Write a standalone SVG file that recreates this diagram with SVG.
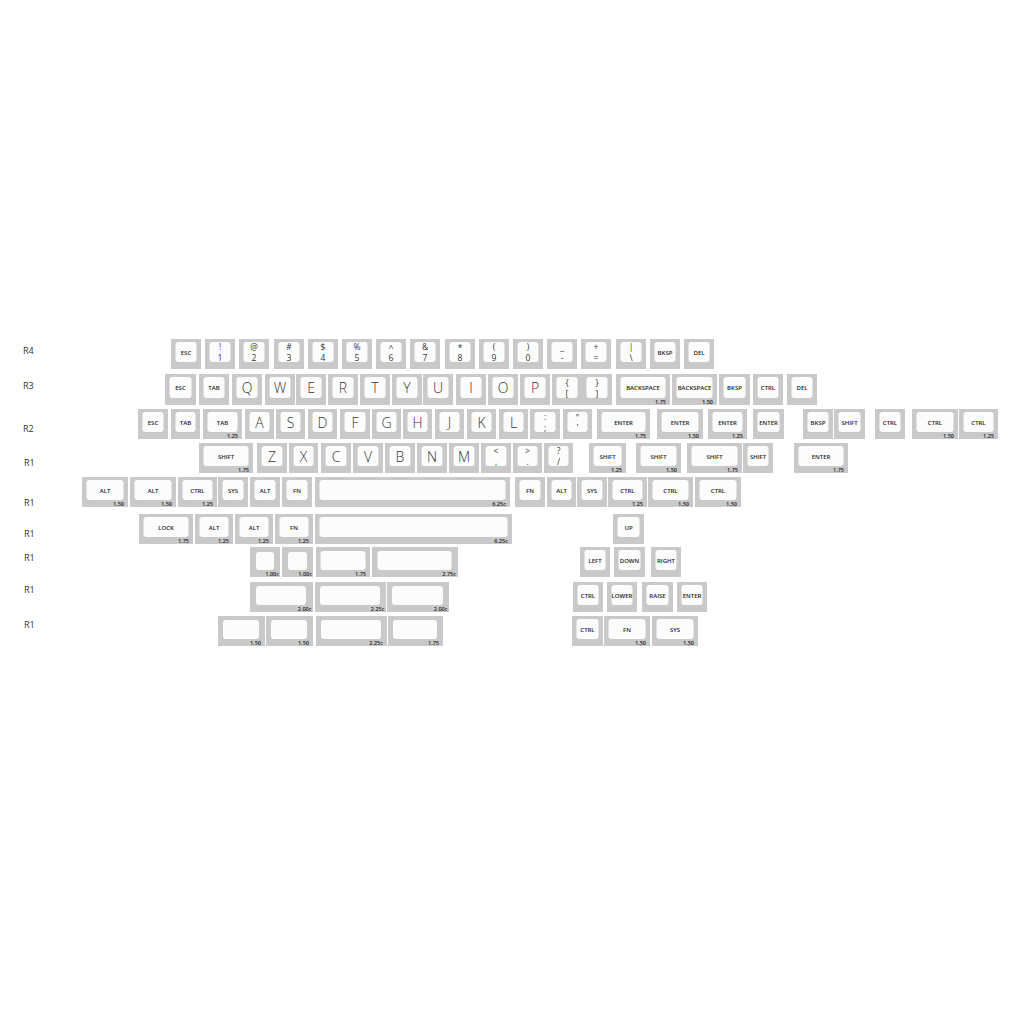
<svg xmlns="http://www.w3.org/2000/svg" width="1024" height="1024" viewBox="0 0 1024 1024">
<style>
.k{fill:#c9c9c9}
.c{fill:#fcfcfc}
text{font-family:"Open Sans","Liberation Sans",sans-serif;fill:#222}
.m{font-size:6px;font-weight:600;text-anchor:middle}
.l{font-size:14px;font-weight:300;text-anchor:middle;fill:#333}
.n{font-size:8.5px;font-weight:400;text-anchor:middle;fill:#333}
.s{font-size:5.5px;font-weight:600;text-anchor:end}
.r{font-size:9px;font-weight:400;fill:#333}
</style>
<rect width="1024" height="1024" fill="#fff"/>
<g id="row-labels">
<text class="r" x="23" y="354">R4</text>
<text class="r" x="23" y="389">R3</text>
<text class="r" x="23" y="432">R2</text>
<text class="r" x="24" y="466">R1</text>
<text class="r" x="24" y="506">R1</text>
<text class="r" x="24" y="537">R1</text>
<text class="r" x="24" y="561">R1</text>
<text class="r" x="24" y="593">R1</text>
<text class="r" x="24" y="628">R1</text>
</g>
<g id="connectors"/>
<!-- R4 -->
<g id="r4-esc"><rect class="k" x="171" y="339" width="30" height="30"/><rect class="c" x="175.5" y="342" width="21" height="20" rx="3"/><text class="m" x="186" y="355">ESC</text></g>
<g id="r4-1"><rect class="k" x="205" y="339" width="30" height="30"/><rect class="c" x="209.5" y="342" width="21" height="20" rx="3"/><text class="n" x="220" y="350">!</text><text class="n" x="220" y="361">1</text></g>
<g id="r4-2"><rect class="k" x="239" y="339" width="30" height="30"/><rect class="c" x="243.5" y="342" width="21" height="20" rx="3"/><text class="n" x="254" y="350">@</text><text class="n" x="254" y="361">2</text></g>
<g id="r4-3"><rect class="k" x="274" y="339" width="30" height="30"/><rect class="c" x="278.5" y="342" width="21" height="20" rx="3"/><text class="n" x="289" y="350">#</text><text class="n" x="289" y="361">3</text></g>
<g id="r4-4"><rect class="k" x="308" y="339" width="30" height="30"/><rect class="c" x="312.5" y="342" width="21" height="20" rx="3"/><text class="n" x="323" y="350">$</text><text class="n" x="323" y="361">4</text></g>
<g id="r4-5"><rect class="k" x="342" y="339" width="30" height="30"/><rect class="c" x="346.5" y="342" width="21" height="20" rx="3"/><text class="n" x="357" y="350">%</text><text class="n" x="357" y="361">5</text></g>
<g id="r4-6"><rect class="k" x="376" y="339" width="30" height="30"/><rect class="c" x="380.5" y="342" width="21" height="20" rx="3"/><text class="n" x="391" y="351">^</text><text class="n" x="391" y="361">6</text></g>
<g id="r4-7"><rect class="k" x="410" y="339" width="30" height="30"/><rect class="c" x="414.5" y="342" width="21" height="20" rx="3"/><text class="n" x="425" y="350">&amp;</text><text class="n" x="425" y="361">7</text></g>
<g id="r4-8"><rect class="k" x="445" y="339" width="30" height="30"/><rect class="c" x="449.5" y="342" width="21" height="20" rx="3"/><text class="n" x="460" y="351">*</text><text class="n" x="460" y="361">8</text></g>
<g id="r4-9"><rect class="k" x="479" y="339" width="30" height="30"/><rect class="c" x="483.5" y="342" width="21" height="20" rx="3"/><text class="n" x="494" y="350">(</text><text class="n" x="494" y="361">9</text></g>
<g id="r4-0"><rect class="k" x="513" y="339" width="30" height="30"/><rect class="c" x="517.5" y="342" width="21" height="20" rx="3"/><text class="n" x="528" y="350">)</text><text class="n" x="528" y="361">0</text></g>
<g id="r4-minus"><rect class="k" x="547" y="339" width="30" height="30"/><rect class="c" x="551.5" y="342" width="21" height="20" rx="3"/><text class="n" x="562" y="350">_</text><text class="n" x="562" y="361">-</text></g>
<g id="r4-equal"><rect class="k" x="581" y="339" width="30" height="30"/><rect class="c" x="585.5" y="342" width="21" height="20" rx="3"/><text class="n" x="596" y="350">+</text><text class="n" x="596" y="361">=</text></g>
<g id="r4-bslash"><rect class="k" x="616" y="339" width="30" height="30"/><rect class="c" x="620.5" y="342" width="21" height="20" rx="3"/><text class="n" x="631" y="350">|</text><text class="n" x="631" y="361">\</text></g>
<g id="r4-bksp"><rect class="k" x="650" y="339" width="30" height="30"/><rect class="c" x="654.5" y="342" width="21" height="20" rx="3"/><text class="m" x="665" y="355">BKSP</text></g>
<g id="r4-del"><rect class="k" x="684" y="339" width="30" height="30"/><rect class="c" x="688.5" y="342" width="21" height="20" rx="3"/><text class="m" x="699" y="355">DEL</text></g>
<!-- R3 -->
<g id="r3-esc"><rect class="k" x="165" y="374" width="31" height="31"/><rect class="c" x="169.5" y="377" width="22" height="21" rx="3"/><text class="m" x="180.5" y="390">ESC</text></g>
<g id="r3-tab"><rect class="k" x="199" y="374" width="30" height="31"/><rect class="c" x="203.5" y="377" width="21" height="21" rx="3"/><text class="m" x="214" y="390">TAB</text></g>
<g id="r3-q"><rect class="k" x="232" y="374" width="30" height="31"/><rect class="c" x="236.5" y="377" width="21" height="21" rx="3"/><text class="l" x="247" y="393">Q</text></g>
<g id="r3-w"><rect class="k" x="265" y="374" width="30" height="31"/><rect class="c" x="269.5" y="377" width="21" height="21" rx="3"/><text class="l" x="280" y="393">W</text></g>
<g id="r3-e"><rect class="k" x="296" y="374" width="30" height="31"/><rect class="c" x="300.5" y="377" width="21" height="21" rx="3"/><text class="l" x="311" y="393">E</text></g>
<g id="r3-r"><rect class="k" x="328" y="374" width="30" height="31"/><rect class="c" x="332.5" y="377" width="21" height="21" rx="3"/><text class="l" x="343" y="393">R</text></g>
<g id="r3-t"><rect class="k" x="360" y="374" width="30" height="31"/><rect class="c" x="364.5" y="377" width="21" height="21" rx="3"/><text class="l" x="375" y="393">T</text></g>
<g id="r3-y"><rect class="k" x="392" y="374" width="30" height="31"/><rect class="c" x="396.5" y="377" width="21" height="21" rx="3"/><text class="l" x="407" y="393">Y</text></g>
<g id="r3-u"><rect class="k" x="423" y="374" width="30" height="31"/><rect class="c" x="427.5" y="377" width="21" height="21" rx="3"/><text class="l" x="438" y="393">U</text></g>
<g id="r3-i"><rect class="k" x="456" y="374" width="30" height="31"/><rect class="c" x="460.5" y="377" width="21" height="21" rx="3"/><text class="l" x="471" y="393">I</text></g>
<g id="r3-o"><rect class="k" x="488" y="374" width="30" height="31"/><rect class="c" x="492.5" y="377" width="21" height="21" rx="3"/><text class="l" x="503" y="393">O</text></g>
<g id="r3-p"><rect class="k" x="520" y="374" width="30" height="31"/><rect class="c" x="524.5" y="377" width="21" height="21" rx="3"/><text class="l" x="535" y="393">P</text></g>
<g id="r3-lbrace"><rect class="k" x="552" y="374" width="30" height="31"/><rect class="c" x="556.5" y="377" width="21" height="21" rx="3"/><text class="n" x="567" y="386">{</text><text class="n" x="567" y="397">[</text></g>
<g id="r3-rbrace"><rect class="k" x="582" y="374" width="30" height="31"/><rect class="c" x="586.5" y="377" width="21" height="21" rx="3"/><text class="n" x="597" y="386">}</text><text class="n" x="597" y="397">]</text></g>
<g id="r3-backspace175"><rect class="k" x="616" y="374" width="54" height="31"/><rect class="c" x="620.5" y="377" width="45" height="21" rx="3"/><text class="m" x="643" y="390">BACKSPACE</text><text class="s" x="666" y="403.5">1.75</text></g>
<g id="r3-backspace150"><rect class="k" x="672" y="374" width="45" height="31"/><rect class="c" x="676.5" y="377" width="36" height="21" rx="3"/><text class="m" x="694.5" y="390">BACKSPACE</text><text class="s" x="713" y="403.5">1.50</text></g>
<g id="r3-bksp"><rect class="k" x="719" y="374" width="31" height="31"/><rect class="c" x="723.5" y="377" width="22" height="21" rx="3"/><text class="m" x="734.5" y="390">BKSP</text></g>
<g id="r3-ctrl"><rect class="k" x="753" y="374" width="30" height="31"/><rect class="c" x="757.5" y="377" width="21" height="21" rx="3"/><text class="m" x="768" y="390">CTRL</text></g>
<g id="r3-del"><rect class="k" x="787" y="374" width="30" height="31"/><rect class="c" x="791.5" y="377" width="21" height="21" rx="3"/><text class="m" x="802" y="390">DEL</text></g>
<!-- R2 -->
<g id="r2-esc"><rect class="k" x="138" y="409" width="30" height="30"/><rect class="c" x="142.5" y="412" width="21" height="20" rx="3"/><text class="m" x="153" y="425">ESC</text></g>
<g id="r2-tab"><rect class="k" x="171" y="409" width="29" height="30"/><rect class="c" x="175.5" y="412" width="20" height="20" rx="3"/><text class="m" x="185.5" y="425">TAB</text></g>
<g id="r2-tab125"><rect class="k" x="203" y="409" width="39" height="30"/><rect class="c" x="207.5" y="412" width="30" height="20" rx="3"/><text class="m" x="222.5" y="425">TAB</text><text class="s" x="238" y="437.5">1.25</text></g>
<g id="r2-a"><rect class="k" x="245" y="409" width="29" height="30"/><rect class="c" x="249.5" y="412" width="20" height="20" rx="3"/><text class="l" x="259.5" y="428">A</text></g>
<g id="r2-s"><rect class="k" x="276" y="409" width="29" height="30"/><rect class="c" x="280.5" y="412" width="20" height="20" rx="3"/><text class="l" x="290.5" y="428">S</text></g>
<g id="r2-d"><rect class="k" x="308" y="409" width="29" height="30"/><rect class="c" x="312.5" y="412" width="20" height="20" rx="3"/><text class="l" x="322.5" y="428">D</text></g>
<g id="r2-f"><rect class="k" x="340" y="409" width="30" height="30"/><rect class="c" x="344.5" y="412" width="21" height="20" rx="3"/><text class="l" x="355" y="428">F</text></g>
<g id="r2-g"><rect class="k" x="372" y="409" width="29" height="30"/><rect class="c" x="376.5" y="412" width="20" height="20" rx="3"/><text class="l" x="386.5" y="428">G</text></g>
<g id="r2-h"><rect class="k" x="403" y="409" width="29" height="30"/><rect class="c" x="407.5" y="412" width="20" height="20" rx="3"/><text class="l" x="417.5" y="428">H</text></g>
<g id="r2-j"><rect class="k" x="435" y="409" width="29" height="30"/><rect class="c" x="439.5" y="412" width="20" height="20" rx="3"/><text class="l" x="449.5" y="428">J</text></g>
<g id="r2-k"><rect class="k" x="467" y="409" width="29" height="30"/><rect class="c" x="471.5" y="412" width="20" height="20" rx="3"/><text class="l" x="481.5" y="428">K</text></g>
<g id="r2-l"><rect class="k" x="499" y="409" width="29" height="30"/><rect class="c" x="503.5" y="412" width="20" height="20" rx="3"/><text class="l" x="513.5" y="428">L</text></g>
<g id="r2-semicolon"><rect class="k" x="530" y="409" width="30" height="30"/><rect class="c" x="534.5" y="412" width="21" height="20" rx="3"/><text class="n" x="545" y="420">:</text><text class="n" x="545" y="431">;</text></g>
<g id="r2-quote"><rect class="k" x="563" y="409" width="29" height="30"/><rect class="c" x="567.5" y="412" width="20" height="20" rx="3"/><text class="n" x="577.5" y="421">"</text><text class="n" x="577.5" y="431">'</text></g>
<g id="r2-enter175"><rect class="k" x="597" y="409" width="53" height="30"/><rect class="c" x="601.5" y="412" width="44" height="20" rx="3"/><text class="m" x="623.5" y="425">ENTER</text><text class="s" x="646" y="437.5">1.75</text></g>
<g id="r2-enter150"><rect class="k" x="657" y="409" width="46" height="30"/><rect class="c" x="661.5" y="412" width="37" height="20" rx="3"/><text class="m" x="680" y="425">ENTER</text><text class="s" x="699" y="437.5">1.50</text></g>
<g id="r2-enter125"><rect class="k" x="708" y="409" width="39" height="30"/><rect class="c" x="712.5" y="412" width="30" height="20" rx="3"/><text class="m" x="727.5" y="425">ENTER</text><text class="s" x="743" y="437.5">1.25</text></g>
<g id="r2-enter"><rect class="k" x="753" y="409" width="31" height="30"/><rect class="c" x="757.5" y="412" width="22" height="20" rx="3"/><text class="m" x="768.5" y="425">ENTER</text></g>
<g id="r2-bksp"><rect class="k" x="803" y="409" width="30" height="30"/><rect class="c" x="807.5" y="412" width="21" height="20" rx="3"/><text class="m" x="818" y="425">BKSP</text></g>
<g id="r2-shift"><rect class="k" x="834" y="409" width="31" height="30"/><rect class="c" x="838.5" y="412" width="22" height="20" rx="3"/><text class="m" x="849.5" y="425">SHIFT</text></g>
<g id="r2-ctrl"><rect class="k" x="875" y="409" width="30" height="30"/><rect class="c" x="879.5" y="412" width="21" height="20" rx="3"/><text class="m" x="890" y="425">CTRL</text></g>
<g id="r2-ctrl150"><rect class="k" x="912" y="409" width="46" height="30"/><rect class="c" x="916.5" y="412" width="37" height="20" rx="3"/><text class="m" x="935" y="425">CTRL</text><text class="s" x="954" y="437.5">1.50</text></g>
<g id="r2-ctrl125"><rect class="k" x="959" y="409" width="39" height="30"/><rect class="c" x="963.5" y="412" width="30" height="20" rx="3"/><text class="m" x="978.5" y="425">CTRL</text><text class="s" x="994" y="437.5">1.25</text></g>
<!-- R1 shift row -->
<g id="r1-shift175l"><rect class="k" x="199" y="443" width="54" height="30"/><rect class="c" x="203.5" y="446" width="45" height="20" rx="3"/><text class="m" x="226" y="459">SHIFT</text><text class="s" x="249" y="471.5">1.75</text></g>
<g id="r1-z"><rect class="k" x="257" y="443" width="30" height="30"/><rect class="c" x="261.5" y="446" width="21" height="20" rx="3"/><text class="l" x="272" y="462">Z</text></g>
<g id="r1-x"><rect class="k" x="289" y="443" width="29" height="30"/><rect class="c" x="293.5" y="446" width="20" height="20" rx="3"/><text class="l" x="303.5" y="462">X</text></g>
<g id="r1-c"><rect class="k" x="321" y="443" width="30" height="30"/><rect class="c" x="325.5" y="446" width="21" height="20" rx="3"/><text class="l" x="336" y="462">C</text></g>
<g id="r1-v"><rect class="k" x="353" y="443" width="30" height="30"/><rect class="c" x="357.5" y="446" width="21" height="20" rx="3"/><text class="l" x="368" y="462">V</text></g>
<g id="r1-b"><rect class="k" x="385" y="443" width="30" height="30"/><rect class="c" x="389.5" y="446" width="21" height="20" rx="3"/><text class="l" x="400" y="462">B</text></g>
<g id="r1-n"><rect class="k" x="417" y="443" width="30" height="30"/><rect class="c" x="421.5" y="446" width="21" height="20" rx="3"/><text class="l" x="432" y="462">N</text></g>
<g id="r1-m"><rect class="k" x="449" y="443" width="30" height="30"/><rect class="c" x="453.5" y="446" width="21" height="20" rx="3"/><text class="l" x="464" y="462">M</text></g>
<g id="r1-comma"><rect class="k" x="481" y="443" width="30" height="30"/><rect class="c" x="485.5" y="446" width="21" height="20" rx="3"/><text class="n" x="496" y="454">&lt;</text><text class="n" x="496" y="465">,</text></g>
<g id="r1-period"><rect class="k" x="513" y="443" width="29" height="30"/><rect class="c" x="517.5" y="446" width="20" height="20" rx="3"/><text class="n" x="527.5" y="454">&gt;</text><text class="n" x="527.5" y="465">.</text></g>
<g id="r1-slash"><rect class="k" x="544" y="443" width="29" height="30"/><rect class="c" x="548.5" y="446" width="20" height="20" rx="3"/><text class="n" x="558.5" y="454">?</text><text class="n" x="558.5" y="465">/</text></g>
<g id="r1-shift125"><rect class="k" x="589" y="443" width="37" height="30"/><rect class="c" x="593.5" y="446" width="28" height="20" rx="3"/><text class="m" x="607.5" y="459">SHIFT</text><text class="s" x="622" y="471.5">1.25</text></g>
<g id="r1-shift150"><rect class="k" x="636" y="443" width="45" height="30"/><rect class="c" x="640.5" y="446" width="36" height="20" rx="3"/><text class="m" x="658.5" y="459">SHIFT</text><text class="s" x="677" y="471.5">1.50</text></g>
<g id="r1-shift175"><rect class="k" x="687" y="443" width="55" height="30"/><rect class="c" x="691.5" y="446" width="46" height="20" rx="3"/><text class="m" x="714.5" y="459">SHIFT</text><text class="s" x="738" y="471.5">1.75</text></g>
<g id="r1-shift"><rect class="k" x="743" y="443" width="30" height="30"/><rect class="c" x="747.5" y="446" width="21" height="20" rx="3"/><text class="m" x="758" y="459">SHIFT</text></g>
<g id="r1-enter175"><rect class="k" x="794" y="443" width="54" height="30"/><rect class="c" x="798.5" y="446" width="45" height="20" rx="3"/><text class="m" x="821" y="459">ENTER</text><text class="s" x="844" y="471.5">1.75</text></g>
<!-- R1 modifier row -->
<g id="m-alt150a"><rect class="k" x="82" y="477" width="46" height="30"/><rect class="c" x="86.5" y="480" width="37" height="20" rx="3"/><text class="m" x="105" y="493">ALT</text><text class="s" x="124" y="505.5">1.50</text></g>
<g id="m-alt150b"><rect class="k" x="130" y="477" width="46" height="30"/><rect class="c" x="134.5" y="480" width="37" height="20" rx="3"/><text class="m" x="153" y="493">ALT</text><text class="s" x="172" y="505.5">1.50</text></g>
<g id="m-ctrl125"><rect class="k" x="178" y="477" width="39" height="30"/><rect class="c" x="182.5" y="480" width="30" height="20" rx="3"/><text class="m" x="197.5" y="493">CTRL</text><text class="s" x="213" y="505.5">1.25</text></g>
<g id="m-sys"><rect class="k" x="218" y="477" width="30" height="30"/><rect class="c" x="222.5" y="480" width="21" height="20" rx="3"/><text class="m" x="233" y="493">SYS</text></g>
<g id="m-alt"><rect class="k" x="250" y="477" width="30" height="30"/><rect class="c" x="254.5" y="480" width="21" height="20" rx="3"/><text class="m" x="265" y="493">ALT</text></g>
<g id="m-fn"><rect class="k" x="282" y="477" width="30" height="30"/><rect class="c" x="286.5" y="480" width="21" height="20" rx="3"/><text class="m" x="297" y="493">FN</text></g>
<g id="m-space"><rect class="k" x="315" y="477" width="195" height="30"/><rect class="c" x="319.5" y="480" width="186" height="20" rx="3"/><text class="s" x="506" y="505.5">6.25c</text></g>
<g id="m-fn2"><rect class="k" x="515" y="477" width="30" height="30"/><rect class="c" x="519.5" y="480" width="21" height="20" rx="3"/><text class="m" x="530" y="493">FN</text></g>
<g id="m-alt2"><rect class="k" x="547" y="477" width="29" height="30"/><rect class="c" x="551.5" y="480" width="20" height="20" rx="3"/><text class="m" x="561.5" y="493">ALT</text></g>
<g id="m-sys2"><rect class="k" x="577" y="477" width="30" height="30"/><rect class="c" x="581.5" y="480" width="21" height="20" rx="3"/><text class="m" x="592" y="493">SYS</text></g>
<g id="m-ctrl125b"><rect class="k" x="608" y="477" width="39" height="30"/><rect class="c" x="612.5" y="480" width="30" height="20" rx="3"/><text class="m" x="627.5" y="493">CTRL</text><text class="s" x="643" y="505.5">1.25</text></g>
<g id="m-ctrl150a"><rect class="k" x="648" y="477" width="45" height="30"/><rect class="c" x="652.5" y="480" width="36" height="20" rx="3"/><text class="m" x="670.5" y="493">CTRL</text><text class="s" x="689" y="505.5">1.50</text></g>
<g id="m-ctrl150b"><rect class="k" x="695" y="477" width="46" height="30"/><rect class="c" x="699.5" y="480" width="37" height="20" rx="3"/><text class="m" x="718" y="493">CTRL</text><text class="s" x="737" y="505.5">1.50</text></g>
<!-- lock row -->
<g id="l-lock"><rect class="k" x="139" y="514" width="54" height="30"/><rect class="c" x="143.5" y="517" width="45" height="20" rx="3"/><text class="m" x="166" y="530">LOCK</text><text class="s" x="189" y="542.5">1.75</text></g>
<g id="l-alt125a"><rect class="k" x="195" y="514" width="38" height="30"/><rect class="c" x="199.5" y="517" width="29" height="20" rx="3"/><text class="m" x="214" y="530">ALT</text><text class="s" x="229" y="542.5">1.25</text></g>
<g id="l-alt125b"><rect class="k" x="235" y="514" width="38" height="30"/><rect class="c" x="239.5" y="517" width="29" height="20" rx="3"/><text class="m" x="254" y="530">ALT</text><text class="s" x="269" y="542.5">1.25</text></g>
<g id="l-fn125"><rect class="k" x="275" y="514" width="38" height="30"/><rect class="c" x="279.5" y="517" width="29" height="20" rx="3"/><text class="m" x="294" y="530">FN</text><text class="s" x="309" y="542.5">1.25</text></g>
<g id="l-space"><rect class="k" x="315" y="514" width="197" height="30"/><rect class="c" x="319.5" y="517" width="188" height="20" rx="3"/><text class="s" x="508" y="542.5">6.25c</text></g>
<g id="l-up"><rect class="k" x="613" y="514" width="31" height="30"/><rect class="c" x="617.5" y="517" width="22" height="20" rx="3"/><text class="m" x="628.5" y="530">UP</text></g>
<!-- row 547 -->
<g id="b1-100a"><rect class="k" x="250" y="547" width="30" height="30"/><rect class="c" x="256" y="552" width="18" height="18" rx="3"/><text class="s" x="279" y="575.5">1.00c</text></g>
<g id="b1-100b"><rect class="k" x="282" y="547" width="31" height="30"/><rect class="c" x="288" y="552" width="19" height="18" rx="3"/><text class="s" x="312" y="575.5">1.00c</text></g>
<g id="b1-175"><rect class="k" x="316" y="547" width="54" height="30"/><rect class="c" x="320.5" y="551" width="45" height="19" rx="3"/><text class="s" x="366" y="575.5">1.75</text></g>
<g id="b1-275"><rect class="k" x="372" y="547" width="86" height="30"/><rect class="c" x="377.5" y="551" width="74" height="19" rx="3"/><text class="s" x="456" y="575.5">2.75c</text></g>
<g id="a-left"><rect class="k" x="580" y="547" width="30" height="30"/><rect class="c" x="584.5" y="550" width="21" height="20" rx="3"/><text class="m" x="595" y="563">LEFT</text></g>
<g id="a-down"><rect class="k" x="614" y="547" width="31" height="30"/><rect class="c" x="618.5" y="550" width="22" height="20" rx="3"/><text class="m" x="629.5" y="563">DOWN</text></g>
<g id="a-right"><rect class="k" x="651" y="547" width="30" height="30"/><rect class="c" x="655.5" y="550" width="21" height="20" rx="3"/><text class="m" x="666" y="563">RIGHT</text></g>
<!-- row 582 -->
<g id="b2-200a"><rect class="k" x="250" y="582" width="63" height="30"/><rect class="c" x="256" y="586" width="50" height="19" rx="3"/><text class="s" x="311.5" y="610.5">2.00c</text></g>
<g id="b2-225"><rect class="k" x="315" y="582" width="71" height="30"/><rect class="c" x="320" y="586" width="60" height="19" rx="3"/><text class="s" x="384.5" y="610.5">2.25c</text></g>
<g id="b2-200b"><rect class="k" x="387" y="582" width="62" height="30"/><rect class="c" x="392" y="586" width="51" height="19" rx="3"/><text class="s" x="447.5" y="610.5">2.00c</text></g>
<g id="c-ctrl"><rect class="k" x="573" y="582" width="30" height="30"/><rect class="c" x="577.5" y="585" width="21" height="20" rx="3"/><text class="m" x="588" y="598">CTRL</text></g>
<g id="c-lower"><rect class="k" x="607" y="582" width="30" height="30"/><rect class="c" x="611.5" y="585" width="21" height="20" rx="3"/><text class="m" x="622" y="598">LOWER</text></g>
<g id="c-raise"><rect class="k" x="642" y="582" width="31" height="30"/><rect class="c" x="646.5" y="585" width="22" height="20" rx="3"/><text class="m" x="657.5" y="598">RAISE</text></g>
<g id="c-enter"><rect class="k" x="677" y="582" width="30" height="30"/><rect class="c" x="681.5" y="585" width="21" height="20" rx="3"/><text class="m" x="692" y="598">ENTER</text></g>
<!-- row 616 -->
<g id="b3-150a"><rect class="k" x="218" y="616" width="47" height="30"/><rect class="c" x="223" y="620" width="36" height="19" rx="3"/><text class="s" x="261" y="644.5">1.50</text></g>
<g id="b3-150b"><rect class="k" x="266" y="616" width="47" height="30"/><rect class="c" x="271" y="620" width="36" height="19" rx="3"/><text class="s" x="309" y="644.5">1.50</text></g>
<g id="b3-225"><rect class="k" x="316" y="616" width="71" height="30"/><rect class="c" x="321" y="620" width="60" height="19" rx="3"/><text class="s" x="383" y="644.5">2.25c</text></g>
<g id="b3-175"><rect class="k" x="388" y="616" width="55" height="30"/><rect class="c" x="393" y="620" width="44" height="19" rx="3"/><text class="s" x="439" y="644.5">1.75</text></g>
<g id="d-ctrl"><rect class="k" x="572" y="616" width="31" height="30"/><rect class="c" x="576.5" y="619" width="22" height="20" rx="3"/><text class="m" x="587.5" y="632">CTRL</text></g>
<g id="d-fn150"><rect class="k" x="604" y="616" width="46" height="30"/><rect class="c" x="608.5" y="619" width="37" height="20" rx="3"/><text class="m" x="627" y="632">FN</text><text class="s" x="646" y="644.5">1.50</text></g>
<g id="d-sys150"><rect class="k" x="652" y="616" width="46" height="30"/><rect class="c" x="656.5" y="619" width="37" height="20" rx="3"/><text class="m" x="675" y="632">SYS</text><text class="s" x="694" y="644.5">1.50</text></g>
</svg>
